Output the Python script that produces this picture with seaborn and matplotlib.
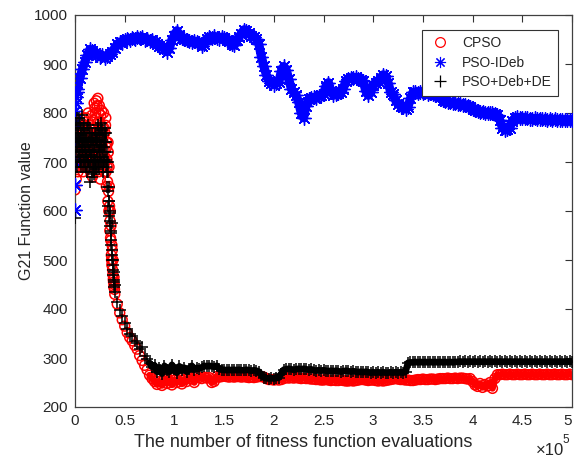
import numpy as np
import matplotlib
matplotlib.use("Agg")
import matplotlib.pyplot as plt
import seaborn as sns
from matplotlib.lines import Line2D

# ---------------- data ----------------
series_names = ["CPSO", "PSO-IDeb", "PSO+Deb+DE"]
x_tick_values = [0, 50000, 100000, 150000, 200000, 250000, 300000, 350000, 400000, 450000, 500000]
x_tick_labels = ["0", "0.5", "1", "1.5", "2", "2.5", "3", "3.5", "4", "4.5", "5"]
y_ticks = [200, 300, 400, 500, 600, 700, 800, 900, 1000]

# early samples every 500 evaluations (0 .. 39500) and the interleaved ones (250 .. 39750)
early_step = 500
cpso_early = [
    643, 700, 745, 690, 760, 720, 680, 770, 735, 700,
    755, 690, 720, 780, 740, 705, 760, 730, 695, 770,
    745, 710, 790, 735, 700, 765, 725, 690, 750, 775,
    715, 680, 740, 760, 700, 670, 730, 785, 745, 690,
    810, 770, 725, 825, 790, 700, 830, 760, 680, 815,
    740, 665, 795, 720, 760, 690, 745, 710, 770, 680,
    760, 700, 790, 650, 740, 690, 620, 720, 600, 650,
    560, 600, 540, 510, 490, 520, 470, 460, 445, 450,
]
cpso_early_mid = [
    720, 760, 665, 735, 700, 785, 710, 745, 690, 765,
    705, 740, 770, 695, 725, 750, 680, 790, 720, 740,
    700, 775, 730, 690, 760, 720, 800, 745, 705, 735,
    760, 725, 690, 795, 735, 710, 770, 700, 820, 750,
    740, 800, 690, 760, 815, 735, 780, 705, 800, 745,
    780, 725, 700, 805, 735, 770, 690, 800, 725, 760,
    710, 775, 680, 730, 705, 660, 740, 640, 690, 610,
    580, 545, 570, 500, 530, 480, 500, 455, 465, 440,
]
hyb_early = [
    586, 680, 760, 720, 790, 700, 745, 770, 710, 740,
    780, 725, 690, 755, 730, 795, 715, 745, 700, 760,
    730, 690, 750, 715, 770, 680, 735, 705, 760, 690,
    725, 660, 740, 700, 670, 720, 690, 750, 705, 680,
    735, 700, 760, 690, 720, 745, 700, 770, 725, 690,
    755, 710, 780, 735, 700, 765, 720, 680, 740, 705,
    720, 760, 690, 740, 650, 700, 610, 680, 590, 620,
    570, 600, 530, 555, 500, 520, 480, 470, 455, 445,
]
hyb_early_mid = [
    700, 740, 775, 690, 730, 760, 720, 790, 750, 700,
    740, 705, 770, 720, 745, 690, 765, 735, 780, 710,
    760, 720, 690, 745, 710, 775, 700, 740, 725, 770,
    690, 745, 715, 680, 760, 700, 735, 675, 720, 755,
    705, 750, 685, 740, 710, 775, 690, 735, 760, 705,
    730, 770, 700, 745, 720, 690, 755, 730, 700, 770,
    740, 705, 760, 680, 720, 640, 700, 620, 650, 580,
    595, 560, 540, 575, 510, 500, 490, 475, 460, 450,
]
# later samples every 2500 evaluations (40000 .. 500000)
late_start = 40000
late_step = 2500
cpso_late = [
    430, 410, 392, 378, 365, 352, 342, 335, 326, 318,
    305, 295, 285, 276, 265, 258, 252, 246, 252, 244,
    258, 248, 262, 245, 255, 250, 260, 247, 256, 252,
    262, 258, 250, 262, 260, 258, 261, 259, 260, 250,
    252, 262, 261, 262, 263, 262, 261, 262, 261, 262,
    262, 261, 262, 261, 260, 261, 260, 261, 262, 262,
    261, 258, 256, 256, 255, 256, 255, 256, 258, 260,
    259, 260, 259, 260, 259, 258, 259, 258, 258, 257,
    257, 256, 256, 255, 255, 256, 255, 254, 255, 254,
    254, 255, 254, 253, 253, 254, 253, 254, 255, 256,
    256, 255, 254, 255, 255, 254, 253, 254, 253, 254,
    255, 256, 257, 258, 257, 256, 256, 255, 255, 254,
    254, 255, 256, 256, 257, 256, 256, 257, 257, 256,
    257, 258, 258, 258, 259, 258, 258, 259, 258, 259,
    259, 258, 257, 258, 252, 245, 242, 248, 240, 246,
    243, 250, 238, 258, 266, 266, 267, 266, 266, 267,
    266, 266, 267, 266, 266, 267, 266, 266, 267, 266,
    266, 267, 266, 266, 267, 266, 266, 267, 266, 266,
    267, 266, 266, 267, 266,
]
hyb_late = [
    435, 415, 398, 385, 372, 360, 350, 345, 335, 330,
    318, 322, 305, 298, 290, 282, 285, 272, 280, 268,
    284, 276, 272, 286, 278, 270, 283, 275, 280, 272,
    278, 284, 276, 280, 278, 281, 284, 283, 284, 283,
    282, 284, 278, 276, 276, 275, 276, 275, 276, 275,
    276, 275, 275, 276, 275, 274, 275, 274, 272, 266,
    260, 259, 258, 259, 258, 259, 260, 268, 276, 277,
    278, 277, 276, 277, 278, 277, 278, 277, 276, 277,
    275, 274, 275, 274, 275, 274, 273, 274, 273, 274,
    273, 272, 273, 274, 273, 272, 273, 272, 271, 272,
    271, 272, 271, 270, 271, 270, 271, 270, 271, 270,
    270, 271, 270, 271, 270, 271, 270, 272, 290, 291,
    291, 292, 291, 292, 291, 292, 291, 292, 291, 292,
    291, 292, 291, 292, 291, 292, 291, 292, 292, 293,
    292, 293, 292, 293, 292, 293, 292, 293, 292, 293,
    292, 293, 292, 293, 292, 293, 292, 293, 292, 293,
    292, 293, 292, 293, 292, 293, 292, 293, 292, 293,
    292, 293, 292, 293, 292, 293, 292, 293, 292, 293,
    292, 293, 292, 293, 292,
]
# PSO-IDeb: a few initial samples, then every 2500 evaluations (2500 .. 500000)
ideb_first_x = [0, 0, 0, 0, 0, 500, 1000, 1500, 2000]
ideb_first_y = [602, 653, 700, 745, 780, 805, 820, 832, 842]
ideb_start = 2500
ideb_step = 2500
ideb_vals = [
    850, 872, 890, 905, 918, 930, 927, 922, 918, 915,
    918, 912, 916, 920, 925, 933, 940, 945, 943, 948,
    951, 949, 954, 952, 956, 953, 955, 950, 952, 947,
    949, 944, 940, 937, 935, 930, 925, 932, 950, 958,
    968, 960, 954, 951, 948, 946, 944, 947, 945, 943,
    936, 940, 952, 955, 953, 957, 954, 952, 955, 953,
    950, 946, 940, 938, 948, 956, 962, 970, 968, 963,
    958, 955, 952, 940, 915, 895, 878, 866, 862, 858,
    861, 863, 885, 895, 888, 870, 850, 842, 836, 822,
    800, 790, 815, 828, 830, 832, 830, 834, 836, 838,
    855, 862, 845, 836, 838, 840, 842, 850, 866, 870,
    872, 871, 873, 870, 868, 865, 845, 836, 842, 858,
    862, 865, 872, 878, 875, 862, 843, 838, 826, 818,
    815, 812, 808, 812, 830, 842, 843, 841, 843, 840,
    842, 839, 841, 838, 836, 837, 832, 826, 824, 823,
    822, 820, 821, 818, 819, 816, 817, 814, 812, 808,
    806, 804, 803, 802, 801, 800, 800, 799, 798, 796,
    785, 770, 765, 767, 770, 784, 790, 791, 790, 789,
    790, 789, 788, 788, 789, 787, 788, 787, 788, 786,
    787, 786, 787, 786, 785, 786, 785, 786, 785, 786,
]

# --------------- assemble ---------------
def grid(start, step, n):
    return [start + step * i for i in range(n)]

cpso_late_x = grid(late_start, late_step, len(cpso_late))
hyb_late_x = grid(late_start, late_step, len(hyb_late))
cpso_x = (grid(0, early_step, len(cpso_early)) + grid(250, early_step, len(cpso_early_mid))
          + cpso_late_x)
cpso_y = cpso_early + cpso_early_mid + cpso_late
hyb_x = (grid(0, early_step, len(hyb_early)) + grid(250, early_step, len(hyb_early_mid))
         + hyb_late_x)
hyb_y = hyb_early + hyb_early_mid + hyb_late
ideb_grid_x = grid(ideb_start, ideb_step, len(ideb_vals))
ideb_x = ideb_first_x + ideb_grid_x
ideb_y = ideb_first_y + ideb_vals

# --------------- plot ---------------
sns.set_style("white")
plt.rcParams['font.family'] = ['Liberation Sans', 'DejaVu Sans']
plt.rcParams['xtick.direction'] = 'in'
plt.rcParams['ytick.direction'] = 'in'

fig = plt.figure(figsize=(5.74, 4.59), dpi=100)
ax = fig.add_axes([75 / 574, 1 - 407 / 459, 497 / 574, 392 / 459])

# dense bands (the original has a marker at nearly every evaluation)
sns.lineplot(x=cpso_late_x[14:], y=cpso_late[14:], ax=ax, color='red', linewidth=4.8,
             estimator=None, sort=False, zorder=1)
sns.lineplot(x=ideb_grid_x, y=ideb_vals, ax=ax, color='blue', linewidth=6.5,
             estimator=None, sort=False, zorder=2)

sns.scatterplot(x=cpso_x, y=cpso_y, ax=ax, marker='o', s=50, color='red',
                facecolor='none', edgecolor='red', linewidth=1.1, legend=False, zorder=2)
sns.scatterplot(x=ideb_x, y=ideb_y, ax=ax, marker=(8, 2, 0), s=95, color='blue',
                linewidth=1.0, legend=False, zorder=3)
sns.lineplot(x=hyb_late_x[14:], y=hyb_late[14:], ax=ax, color='black', linewidth=4.8,
             estimator=None, sort=False, zorder=4)
sns.scatterplot(x=hyb_x, y=hyb_y, ax=ax, marker='+', s=85, color='black',
                linewidth=1.1, legend=False, zorder=5)

ax.set_xlim(0, 500000)
ax.set_ylim(200, 1000)
ax.set_xticks(x_tick_values)
ax.set_xticklabels(x_tick_labels)
ax.get_xticklabels()[-1].set_horizontalalignment('right')
ax.set_yticks(y_ticks)
ax.tick_params(axis='both', which='both', direction='in', length=5, width=0.8,
               color='#333333', labelsize=11, top=True, right=True, pad=5)
for sp in ax.spines.values():
    sp.set_color('#404040')
    sp.set_linewidth(0.9)

ax.set_xlabel("The number of fitness function evaluations", fontsize=13)
ax.xaxis.set_label_coords(0.46, -0.068)
ax.set_ylabel("G21 Function value", fontsize=11.5, labelpad=0)

ax.text(0.928, -0.11, "×10", transform=ax.transAxes, ha='left', va='center', fontsize=12)
ax.text(0.981, -0.085, "5", transform=ax.transAxes, ha='left', va='center', fontsize=8.5)

handles = [
    Line2D([], [], marker='o', color='red', markerfacecolor='none', linestyle='none', markersize=7, markeredgewidth=0.9),
    Line2D([], [], marker=(8, 2, 0), color='blue', linestyle='none', markersize=8, markeredgewidth=0.8),
    Line2D([], [], marker='+', color='black', linestyle='none', markersize=8, markeredgewidth=0.9),
]
leg = ax.legend(handles, series_names, loc='upper right', bbox_to_anchor=(0.972, 0.962),
                borderaxespad=0, fancybox=False, framealpha=1, edgecolor='#333333',
                fontsize=10, labelspacing=0.4, handletextpad=0.8, borderpad=0.45,
                handlelength=1.6)
leg.get_frame().set_linewidth(0.8)
leg.set_zorder(10)

fig.savefig("out.png", dpi=100)
